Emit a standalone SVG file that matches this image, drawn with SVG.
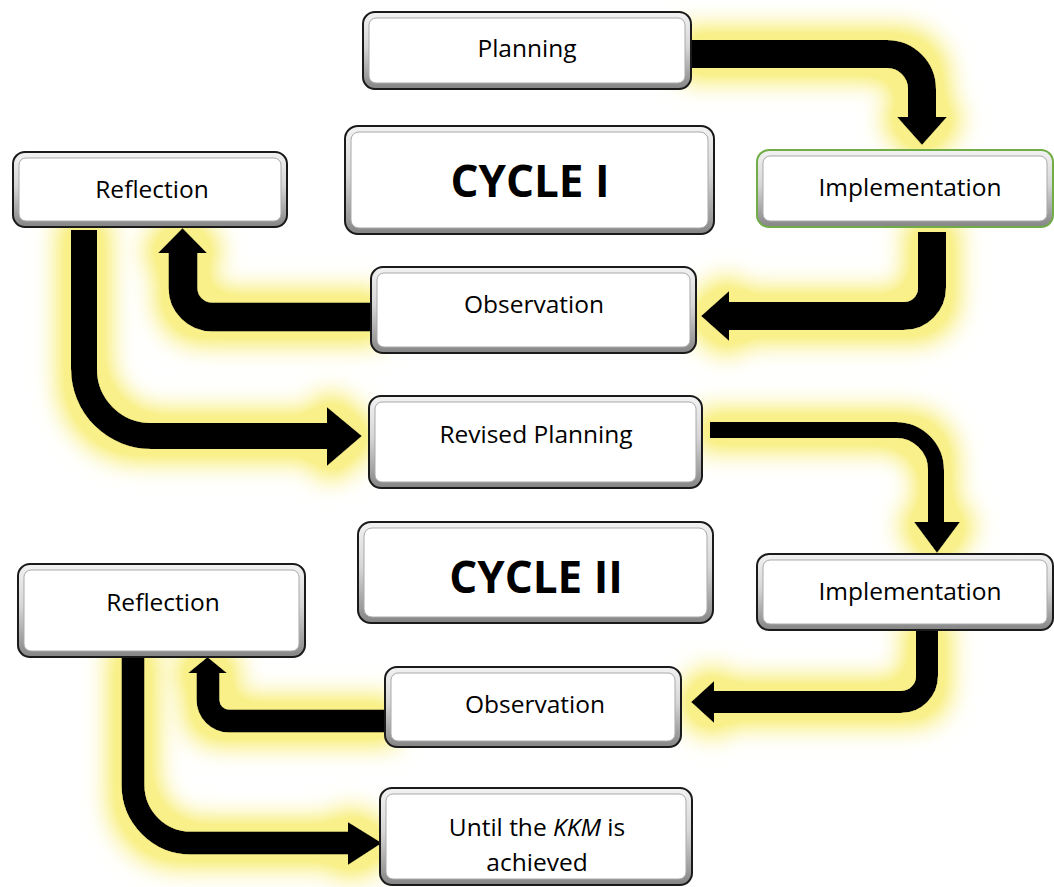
<svg xmlns="http://www.w3.org/2000/svg" width="1054" height="887" viewBox="0 0 1054 887">
<style>
.frame{fill:url(#bevel);stroke:#1a1a1a;stroke-width:2}
.frame.green{stroke:#70ad47}
.inner{fill:#fff;stroke:#a9a9a9;stroke-width:1}
.lbl{font-family:"Open Sans","Noto Sans","Liberation Sans",sans-serif;font-size:24.5px;fill:#000;text-anchor:middle}
.big{font-family:"Open Sans","Noto Sans","Liberation Sans",sans-serif;font-size:44px;font-weight:bold;fill:#000;text-anchor:middle}
.shaft{fill:none;stroke:#000;stroke-linejoin:round;stroke-linecap:butt}
.head{fill:#000}
.arrow{filter:url(#glow)}
</style>
<defs>
<linearGradient id="bevel" x1="0" y1="0" x2="0" y2="1">
<stop offset="0" stop-color="#f2f2f2"/>
<stop offset="0.45" stop-color="#d6d6d6"/>
<stop offset="1" stop-color="#858585"/>
</linearGradient>
<filter id="glow" filterUnits="userSpaceOnUse" x="0" y="0" width="1054" height="887">
<feMorphology in="SourceAlpha" operator="dilate" radius="12" result="d"/>
<feGaussianBlur in="d" stdDeviation="13" result="b"/>
<feComponentTransfer in="b" result="b2"><feFuncA type="linear" slope="1.5"/></feComponentTransfer>
<feFlood flood-color="#f9f08a" flood-opacity="1"/>
<feComposite in2="b2" operator="in" result="g"/>
<feMerge><feMergeNode in="g"/><feMergeNode in="SourceGraphic"/></feMerge>
</filter>
</defs>
<rect width="1054" height="887" fill="#fff"/>
<g id="connectors">
<g class="arrow"><path class="shaft" stroke-width="28" d="M692,54 H887 A35,35 0 0 1 922,89 V121"/><polygon class="head" points="897,117 947,117 922,145"/></g>
<g class="arrow"><path class="shaft" stroke-width="28" d="M932,232 V288 A28,28 0 0 1 904,316 H725"/><polygon class="head" points="729,291 729,341 701,316"/></g>
<g class="arrow"><path class="shaft" stroke-width="29" d="M371,317 H212 A29,29 0 0 1 183,288 V249"/><polygon class="head" points="158,253 207,253 182.5,228"/></g>
<g class="arrow"><path class="shaft" stroke-width="26" d="M84,230 V369 A67,67 0 0 0 151,436 H331"/><polygon class="head" points="327,407 327,466 362,436"/></g>
<g class="arrow"><path class="shaft" stroke-width="16" d="M710,430 H896 A40,40 0 0 1 936,470 V526"/><polygon class="head" points="914,522 960,522 937,553"/></g>
<g class="arrow"><path class="shaft" stroke-width="22" d="M927,630 V676 A26,26 0 0 1 901,702 H710"/><polygon class="head" points="714,681 714,723 691,702"/></g>
<g class="arrow"><path class="shaft" stroke-width="23" d="M385,721 H229 A21,21 0 0 1 208,700 V669"/><polygon class="head" points="188,673 227,673 207.5,657"/></g>
<g class="arrow"><path class="shaft" stroke-width="23" d="M133,657 V785 A58,58 0 0 0 191,843 H352"/><polygon class="head" points="348,822 348,865 382,843"/></g>
</g>
<g id="planning"><rect class="frame" x="363" y="12" width="328" height="77" rx="12"/><rect class="inner" x="369" y="18" width="316" height="65" rx="7"/><text class="lbl" x="527" y="57">Planning</text></g>
<g id="cycle1"><rect class="frame" x="345" y="126" width="369" height="108" rx="13"/><rect class="inner" x="351" y="132" width="357" height="96" rx="8"/><text class="big" x="530" y="197">CYCLE I</text></g>
<g id="reflection1"><rect class="frame" x="13" y="152" width="274" height="75" rx="12"/><rect class="inner" x="19" y="158" width="262" height="63" rx="7"/><text class="lbl" x="152" y="198">Reflection</text></g>
<g id="implementation1"><rect class="frame green" x="757" y="150" width="296" height="77" rx="12"/><rect class="inner" x="763" y="156" width="284" height="65" rx="7"/><text class="lbl" x="910" y="196">Implementation</text></g>
<g id="observation1"><rect class="frame" x="371" y="267" width="325" height="86" rx="12"/><rect class="inner" x="377" y="273" width="313" height="74" rx="7"/><text class="lbl" x="534" y="313">Observation</text></g>
<g id="revised-planning"><rect class="frame" x="369" y="396" width="333" height="92" rx="12"/><rect class="inner" x="375" y="402" width="321" height="80" rx="7"/><text class="lbl" x="536" y="443">Revised Planning</text></g>
<g id="cycle2"><rect class="frame" x="358" y="522" width="355" height="101" rx="13"/><rect class="inner" x="364" y="528" width="343" height="89" rx="8"/><text class="big" x="536" y="593">CYCLE II</text></g>
<g id="implementation2"><rect class="frame" x="757" y="554" width="296" height="76" rx="12"/><rect class="inner" x="763" y="560" width="284" height="64" rx="7"/><text class="lbl" x="910" y="600">Implementation</text></g>
<g id="reflection2"><rect class="frame" x="18" y="564" width="287" height="93" rx="12"/><rect class="inner" x="24" y="570" width="275" height="81" rx="7"/><text class="lbl" x="163" y="611">Reflection</text></g>
<g id="observation2"><rect class="frame" x="385" y="667" width="296" height="80" rx="12"/><rect class="inner" x="391" y="673" width="284" height="68" rx="7"/><text class="lbl" x="535" y="713">Observation</text></g>
<g id="until"><rect class="frame" x="380" y="788" width="312" height="97" rx="12"/><rect class="inner" x="386" y="794" width="300" height="85" rx="7"/><text class="lbl" x="537" y="836">Until the <tspan font-style="italic">KKM</tspan> is</text><text class="lbl" x="537" y="871">achieved</text></g>
</svg>
